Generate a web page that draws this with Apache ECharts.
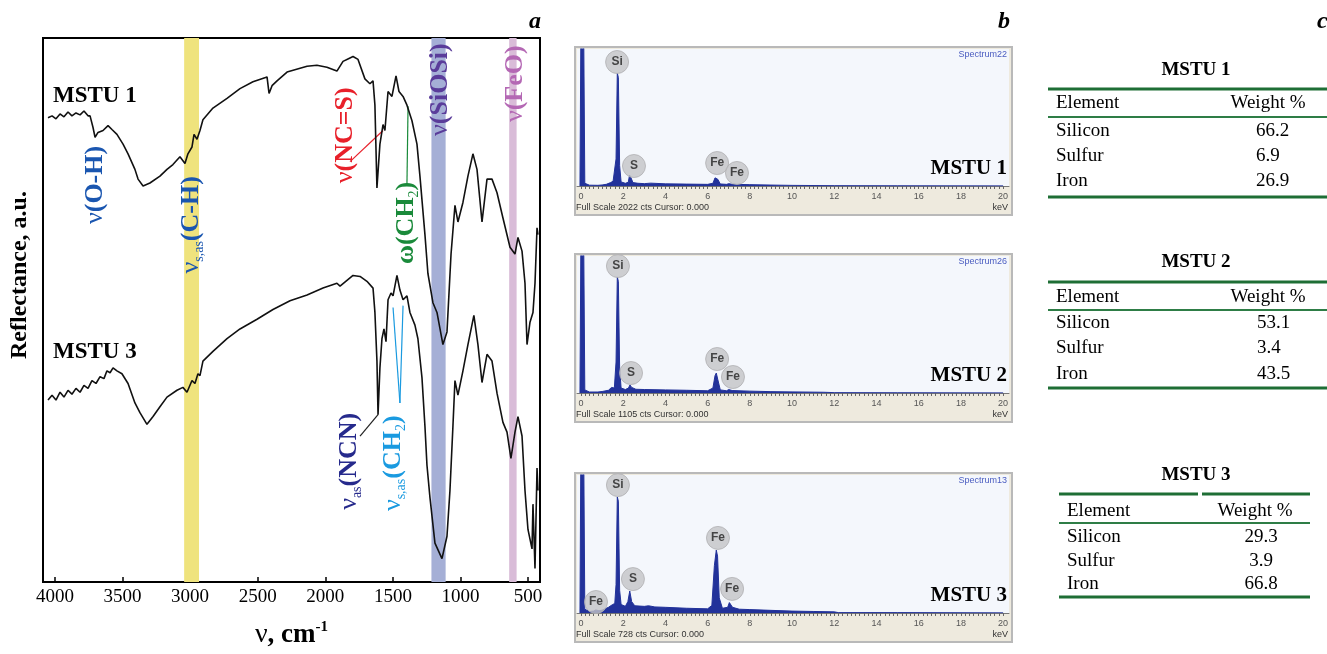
<!DOCTYPE html>
<html>
<head>
<meta charset="utf-8">
<title>IR reflectance, EDS spectra and composition</title>
<script src="https://cdn.jsdelivr.net/npm/echarts@6/dist/echarts.min.js"></script>
<style>
  html, body { margin: 0; padding: 0; background: #fff; }
  #main { width: 1327px; height: 654px; }
</style>
</head>
<body>
<div id="main"></div>
<script>
// ---- panel a: IR reflectance, [wavenumber cm-1, reflectance a.u.]
var irMstu1 = [
  [4051,477],[4021,479],[3992,476],[3962,481],[3933,478],[3903,483],[3874,479],[3844,482],[3814,480],[3785,484],
  [3755,479],[3740,479],[3718,467],[3703,457],[3681,462],[3644,464],[3607,469],[3578,465],[3541,460],[3496,450],
  [3459,440],[3408,424],[3385,414],[3348,407],[3297,410],[3223,417],[3171,424],[3127,429],[3075,437],[3038,430],
  [3016,440],[2986,447],[2971,460],[2949,455],[2927,464],[2905,475],[2831,487],[2727,497],[2631,507],[2535,514],
  [2431,519],[2416,502],[2394,510],[2357,515],[2283,524],[2135,530],[2062,531],[1988,529],[1914,525],[1869,535],
  [1825,538],[1795,540],[1758,537],[1707,517],[1670,512],[1647,515],[1633,490],[1618,405],[1596,450],[1573,470],
  [1559,464],[1536,504],[1507,499],[1477,520],[1455,504],[1425,499],[1396,490],[1359,474],[1322,450],[1300,417],
  [1263,357],[1241,317],[1204,287],[1174,277],[1130,244],[1100,257],[1085,297],[1070,337],[1041,387],[1019,370],
  [982,390],[945,417],[908,440],[878,424],[841,370],[804,414],[767,414],[730,400],[686,374],[634,344],
  [597,337],[575,354],[545,340],[523,307],[508,244],[486,267],[464,277],[449,307],[434,364],[427,357]
];
var irMstu3 = [
  [4051,187],[4021,192],[3992,187],[3962,195],[3933,190],[3903,197],[3874,193],[3844,199],[3814,195],[3785,202],
  [3755,199],[3726,207],[3696,204],[3666,211],[3637,209],[3615,217],[3592,215],[3570,220],[3541,217],[3504,214],
  [3459,204],[3408,184],[3371,174],[3319,162],[3274,170],[3223,180],[3171,190],[3097,197],[3053,200],[3023,195],
  [2986,207],[2964,204],[2942,214],[2927,212],[2905,227],[2831,237],[2727,250],[2631,260],[2505,270],[2387,280],
  [2261,289],[2135,295],[2017,302],[1914,307],[1891,304],[1795,315],[1743,314],[1692,309],[1647,302],[1633,277],
  [1618,227],[1610,172],[1596,220],[1581,250],[1566,260],[1551,247],[1536,290],[1514,297],[1499,294],[1470,315],
  [1448,300],[1425,290],[1396,294],[1374,277],[1337,264],[1315,250],[1285,210],[1263,160],[1248,120],[1226,87],
  [1189,40],[1137,24],[1100,47],[1078,94],[1056,160],[1041,207],[1019,192],[982,217],[945,244],[901,274],
  [871,244],[841,205],[804,234],[767,227],[730,194],[686,164],[656,154],[627,127],[597,154],[575,170],
  [545,150],[523,94],[501,54],[471,34],[464,80],[449,14],[434,117],[427,94]
];
var irTicks = [4000, 3500, 3000, 2500, 2000, 1500, 1000, 500];
// highlighted bands [from, to] cm-1: C-H, Si-O-Si, Fe-O
var bandRanges = [[3044, 2934], [1215, 1110], [640, 585]];
// where each assignment label is centred [cm-1, a.u.]
var irLabelAt = [[3703,408],[2993,367],[1854,459],[1403,369],[1152,506],[597,512],[1825,124],[1499,122]];
// leader lines [[cm-1, a.u.], [cm-1, a.u.]]
var leaderNCS = [[1817,432],[1573,464]];
var leaderCH2w = [[1388,489],[1396,409]];
var leaderNCN = [[1743,150],[1610,172]];
var leaderCH2s = [[[1448,184],[1499,282]], [[1448,184],[1425,284]]];

// ---- panel b: EDS spectra, [keV, counts]
var eds1 = [
  [-0.05,0],[0.0,2600],[0.12,2600],[0.18,40],[0.4,12],[0.8,10],[1.0,15],[1.2,25],[1.4,50],[1.52,70],[1.6,80],
  [1.66,400],[1.72,1668],[1.77,1600],[1.83,300],[1.9,60],[2.1,40],[2.24,55],[2.3,162],[2.37,120],[2.46,50],
  [2.7,40],[3.0,35],[3.3,42],[3.6,38],[4.0,32],[5.0,28],[6.0,24],[6.25,40],[6.35,120],[6.41,148],[6.48,100],
  [6.6,30],[6.9,24],[7.0,35],[7.07,44],[7.16,25],[8,20],[9,14],[10,9],[12,5],[15,3],[20,2]
];
var eds2 = [
  [-0.05,0],[0.0,1400],[0.12,1400],[0.18,25],[0.4,8],[0.8,8],[1.0,12],[1.3,22],[1.45,45],[1.52,56],[1.58,40],
  [1.66,250],[1.72,936],[1.77,900],[1.83,200],[1.9,40],[2.1,28],[2.25,40],[2.32,65],[2.4,45],[2.6,30],[3.0,28],
  [4.0,25],[5.0,22],[6.0,18],[6.25,40],[6.35,140],[6.41,161],[6.48,110],[6.6,25],[6.9,18],[7.0,28],[7.07,32],
  [7.16,20],[8,15],[9,11],[10,9],[11.5,6],[12,3],[15,2],[20,1]
];
var eds3 = [
  [-0.05,0],[0.0,1000],[0.12,1000],[0.18,20],[0.4,8],[0.6,10],[0.7,16],[0.85,12],[1.0,15],[1.3,30],[1.5,45],
  [1.6,50],[1.66,150],[1.72,612],[1.77,590],[1.83,120],[1.9,45],[2.1,35],[2.22,60],[2.31,116],[2.4,60],[2.55,38],
  [3.0,35],[3.2,38],[3.5,32],[4.0,30],[5.0,25],[6.0,22],[6.2,40],[6.32,250],[6.41,332],[6.47,300],[6.55,80],
  [6.7,25],[6.95,30],[7.03,55],[7.09,58],[7.18,30],[7.5,20],[8,18],[9,14],[10,10],[11,8],[12,6],[12.2,2],
  [15,2],[20,1]
];
var edsFullScale = [2022, 1105, 728];
var edsSpectrumNames = ['Spectrum22', 'Spectrum26', 'Spectrum13'];
var sampleNames = ['MSTU 1', 'MSTU 2', 'MSTU 3'];
var edsTicks = [0, 2, 4, 6, 8, 10, 12, 14, 16, 18, 20];
// peak markers [keV, counts, element]
var edsMarks1 = [[1.71,1830,'Si'],[2.51,295,'S'],[6.45,339,'Fe'],[7.39,192,'Fe']];
var edsMarks2 = [[1.75,1024,'Si'],[2.37,161,'S'],[6.45,274,'Fe'],[7.2,129,'Fe']];
var edsMarks3 = [[1.75,675,'Si'],[2.46,179,'S'],[6.49,396,'Fe'],[7.16,127,'Fe'],[0.71,58,'Fe']];

// ---- panel c: composition tables
var elementNames = ['Silicon', 'Sulfur', 'Iron'];
var weight1 = [66.2, 6.9, 26.9];
var weight2 = [53.1, 3.4, 43.5];
var weight3 = [29.3, 3.9, 66.8];

var chart = echarts.init(document.getElementById('main'));

var SERIF = '"Liberation Serif", "Times New Roman", serif';
var SANS = '"Liberation Sans", Arial, sans-serif';

function txt(x, y, s, font, color, align, valign, rot) {
  return {
    type: 'text', x: x, y: y, rotation: rot || 0, z: 100, silent: true,
    style: {
      text: s, font: font, fill: color,
      align: align || 'left', textAlign: align || 'left',
      verticalAlign: valign || 'middle', textVerticalAlign: valign || 'middle'
    }
  };
}
function hline(x1, x2, y, w, color) {
  return { type: 'line', z: 100, silent: true, shape: { x1: x1, y1: y, x2: x2, y2: y },
    style: { stroke: color, lineWidth: w } };
}

// annotation labels (rotated, read bottom to top)
function richFor(color) {
  return {
    v: { fontFamily: SERIF, fontSize: 26, color: color, lineHeight: 30 },
    t: { fontFamily: SERIF, fontSize: 26, fontWeight: 'bold', color: color, lineHeight: 30 },
    s: { fontFamily: SERIF, fontSize: 14, color: color, verticalAlign: 'bottom', lineHeight: 30 }
  };
}
var labelDefs = [
  ['{v|ν}{t|(O-H)}', '#1a56b0'],
  ['{v|ν}{s|s,as}{t|(C-H)}', '#1a56b0'],
  ['{v|ν}{t|(NC=S)}', '#e8202a'],
  ['{t|ω(CH}{s|2}{t|)}', '#1a8a3a'],
  ['{v|ν}{t|(SiOSi)}', '#5a3c9a'],
  ['{v|ν}{t|(FeO)}', '#b468b4'],
  ['{v|ν}{s|as}{t|(NCN)}', '#262a8c'],
  ['{v|ν}{s|s,as}{t|(CH}{s|2}{t|)}', '#1a9ae0']
];
var markPoints = irLabelAt.map(function (c, i) {
  return {
    coord: c, symbol: 'circle', symbolSize: 1, itemStyle: { color: 'rgba(0,0,0,0)' },
    label: { show: true, position: 'inside', rotate: 90, formatter: labelDefs[i][0], rich: richFor(labelDefs[i][1]) }
  };
});
function seg(p, color) {
  return [{ coord: p[0], lineStyle: { color: color, width: 1.2, type: 'solid' } }, { coord: p[1] }];
}

var bandColors = ['#EFE37D', '#A5AFD6', '#D9BCD8'];

var grids = [{ left: 43, top: 38, width: 497, height: 559, show: true, borderColor: '#000', borderWidth: 2 }];
var xAxes = [{
  gridIndex: 0, type: 'value', inverse: true, min: 412, max: 4088,
  axisLine: { lineStyle: { color: '#000', width: 2 } },
  axisTick: { inside: true, length: 5, customValues: irTicks, lineStyle: { color: '#000', width: 1.5 } },
  axisLabel: { customValues: irTicks, color: '#000', fontFamily: SERIF, fontSize: 19, margin: 6,
    formatter: function (v) { return String(v); } },
  splitLine: { show: false },
  name: '{v|ν}{n|, cm}{s|-1}', nameLocation: 'middle', nameGap: 38,
  nameTextStyle: { rich: {
    v: { fontFamily: SERIF, fontSize: 28, color: '#000', lineHeight: 30 },
    n: { fontFamily: SERIF, fontSize: 27, fontWeight: 'bold', color: '#000', lineHeight: 30 },
    s: { fontFamily: SERIF, fontSize: 15, fontWeight: 'bold', color: '#000', verticalAlign: 'top', lineHeight: 30 }
  } }
}];
var yAxes = [{
  gridIndex: 0, type: 'value', min: 0, max: 559,
  axisLine: { show: false }, axisTick: { show: false }, axisLabel: { show: false }, splitLine: { show: false }
}];

var series = [
  {
    name: 'MSTU 1', type: 'line', xAxisIndex: 0, yAxisIndex: 0, data: irMstu1, symbol: 'none',
    lineStyle: { color: '#111', width: 1.6 }, z: 5,
    markArea: {
      silent: true,
      data: bandRanges.map(function (r, i) {
        return [{ xAxis: r[0], itemStyle: { color: bandColors[i], opacity: 1 } }, { xAxis: r[1] }];
      })
    },
    markPoint: { silent: true, data: markPoints },
    markLine: {
      silent: true, symbol: ['none', 'none'], label: { show: false },
      data: [
        seg(leaderNCS, '#e8202a'),
        seg(leaderCH2w, '#1a8a3a'),
        seg(leaderNCN, '#222'),
        seg(leaderCH2s[0], '#1a9ae0'),
        seg(leaderCH2s[1], '#1a9ae0')
      ]
    }
  },
  {
    name: 'MSTU 3', type: 'line', xAxisIndex: 0, yAxisIndex: 0, data: irMstu3, symbol: 'none',
    lineStyle: { color: '#111', width: 1.6 }, z: 5
  }
];

// EDS layout
var edsBox = [{ top: 49, height: 137 }, { top: 256, height: 137 }, { top: 475, height: 138 }];
var edsData = [eds1, eds2, eds3];
var edsMarks = [edsMarks1, edsMarks2, edsMarks3];
var minorTicks = [];
for (var k = 0; k <= 100; k++) minorTicks.push(Math.round(k * 2) / 10);

var graphics = [];

edsBox.forEach(function (b, i) {
  var gi = i + 1;
  grids.push({ left: 577, top: b.top, width: 432, height: b.height, show: true,
    backgroundColor: '#F4F7FC', borderWidth: 0 });
  xAxes.push({
    gridIndex: gi, type: 'value', min: -0.19, max: 20.28,
    axisLine: { lineStyle: { color: '#777', width: 1 } },
    axisTick: { customValues: minorTicks, length: 3, lineStyle: { color: '#666', width: 1 } },
    axisLabel: { customValues: edsTicks, color: '#555', fontFamily: SANS, fontSize: 9, margin: 6 },
    splitLine: { show: false }
  });
  yAxes.push({
    gridIndex: gi, type: 'value', min: 0, max: edsFullScale[i], show: false
  });
  series.push({
    type: 'line', xAxisIndex: gi, yAxisIndex: gi, data: edsData[i], symbol: 'none', clip: true,
    lineStyle: { color: '#22329a', width: 1 }, areaStyle: { color: '#22329a', opacity: 1 }, z: 3
  });
  series.push({
    type: 'scatter', xAxisIndex: gi, yAxisIndex: gi, data: edsMarks[i], symbolSize: 23, z: 6,
    itemStyle: { color: '#C3C3C5', borderColor: '#B0B0B3', borderWidth: 1 },
    label: { show: true, position: 'inside', formatter: function (p) { return p.value[2]; },
      fontFamily: SANS, fontWeight: 'bold', fontSize: 12, color: '#222' }
  });
  // instrument frame and captions
  graphics.push({ type: 'rect', z: -10, silent: true,
    shape: { x: 575, y: b.top - 2, width: 437, height: b.height + 31 },
    style: { fill: '#EEEADE', stroke: '#B9B9B9', lineWidth: 2 } });
  graphics.push(txt(1007, b.top + 6, edsSpectrumNames[i], '9px ' + SANS, '#4a5cc0', 'right', 'middle'));
  graphics.push(txt(1007, b.top + b.height - 17, sampleNames[i], 'bold 21px ' + SERIF, '#000', 'right', 'middle'));
  graphics.push(txt(576, b.top + b.height + 22, 'Full Scale ' + edsFullScale[i] + ' cts Cursor: 0.000',
    '9px ' + SANS, '#333', 'left', 'middle'));
  graphics.push(txt(1008, b.top + b.height + 22, 'keV', '9px ' + SANS, '#333', 'right', 'middle'));
});

// panel a captions
graphics.push(txt(20, 275, 'Reflectance, a.u.', 'bold 24px ' + SERIF, '#000', 'center', 'middle', Math.PI / 2));
graphics.push(txt(53, 96, 'MSTU 1', 'bold 23px ' + SERIF, '#000', 'left', 'middle'));
graphics.push(txt(53, 352, 'MSTU 3', 'bold 23px ' + SERIF, '#000', 'left', 'middle'));
graphics.push(txt(541, 22, 'a', 'italic bold 24px ' + SERIF, '#000', 'right', 'middle'));
graphics.push(txt(1010, 22, 'b', 'italic bold 24px ' + SERIF, '#000', 'right', 'middle'));
graphics.push(txt(1317, 22, 'c', 'italic bold 24px ' + SERIF, '#000', 'left', 'middle'));

// panel c tables
var tables = [
  { values: weight1, title: 70, topLine: 89, head: 103, midLine: 117, rows: [131, 156, 181], bottom: 197,
    x1: 1048, x2: 1327, elemX: 1056, headX: 1268, valX: 1256, valAlign: 'left', split: false },
  { values: weight2, title: 262, topLine: 282, head: 297, midLine: 310, rows: [323, 348, 374], bottom: 388,
    x1: 1048, x2: 1327, elemX: 1056, headX: 1268, valX: 1257, valAlign: 'left', split: false },
  { values: weight3, title: 475, topLine: 494, head: 511, midLine: 523, rows: [537, 561, 584], bottom: 597,
    x1: 1059, x2: 1310, elemX: 1067, headX: 1255, valX: 1261, valAlign: 'center', split: true }
];
var GREEN = '#1E6E35';
tables.forEach(function (t, i) {
  graphics.push(txt(1196, t.title, sampleNames[i], 'bold 19px ' + SERIF, '#000', 'center', 'middle'));
  if (t.split) {
    graphics.push(hline(t.x1, 1198, t.topLine, 3, GREEN));
    graphics.push(hline(1202, t.x2, t.topLine, 3, GREEN));
  } else {
    graphics.push(hline(t.x1, t.x2, t.topLine, 3, GREEN));
  }
  graphics.push(txt(t.elemX, t.head, 'Element', '19px ' + SERIF, '#000', 'left', 'middle'));
  graphics.push(txt(t.headX, t.head, 'Weight %', '19px ' + SERIF, '#000', 'center', 'middle'));
  graphics.push(hline(t.x1, t.x2, t.midLine, 2, '#2E7D46'));
  elementNames.forEach(function (el, r) {
    graphics.push(txt(t.elemX, t.rows[r], el, '19px ' + SERIF, '#000', 'left', 'middle'));
    graphics.push(txt(t.valX, t.rows[r], t.values[r].toFixed(1), '19px ' + SERIF, '#000', t.valAlign, 'middle'));
  });
  graphics.push(hline(t.x1, t.x2, t.bottom, 3, GREEN));
});

var option = {
  animation: false,
  backgroundColor: '#fff',
  grid: grids,
  xAxis: xAxes,
  yAxis: yAxes,
  series: series,
  graphic: { elements: graphics }
};
chart.setOption(option);
</script>
</body>
</html>
